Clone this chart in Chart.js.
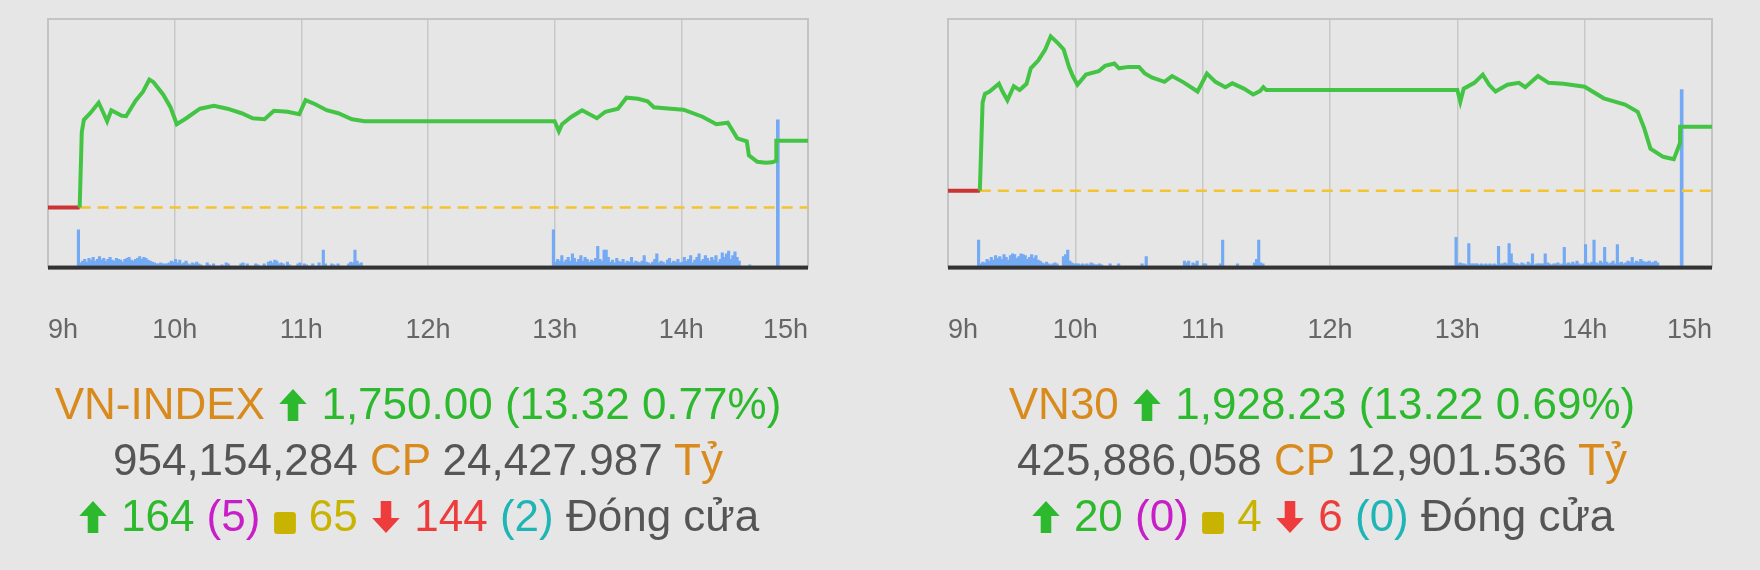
<!DOCTYPE html>
<html>
<head>
<meta charset="utf-8">
<script src="https://cdn.jsdelivr.net/npm/chart.js@4.4.1/dist/chart.umd.min.js"></script>
<style>
  body { margin:0; width:1760px; height:570px; background:#e6e6e6; font-family:"Liberation Sans", Arial, sans-serif; overflow:hidden; position:relative; }
  canvas { position:absolute; top:0; }
  .info { position:absolute; top:376px; width:860px; text-align:center; font-size:44px; line-height:56px; color:#555; white-space:nowrap; }
  .o { color:#d98a1c; } .g { color:#2db92d; } .m { color:#c81ec8; } .y { color:#c8b400; } .r { color:#ee3b3b; } .c { color:#1fb5b5; }
  svg { vertical-align:-4px; }
</style>
</head>
<body>
<canvas id="vnindex" width="860" height="395" style="left:0"></canvas>
<canvas id="vn30" width="860" height="395" style="left:900px"></canvas>

<div class="info" style="left:-12px">
  <div><span class="o">VN-INDEX</span> <svg width="32" height="36" viewBox="0 0 30 34"><path d="M15 2 L28 16 L20 16 L20 32 L10 32 L10 16 L2 16 Z" fill="#2db92d"/></svg> <span class="g">1,750.00 (13.32 0.77%)</span></div>
  <div>954,154,284 <span class="o">CP</span> 24,427.987 <span class="o">Tỷ</span></div>
  <div><svg width="32" height="36" viewBox="0 0 30 34"><path d="M15 2 L28 16 L20 16 L20 32 L10 32 L10 16 L2 16 Z" fill="#2db92d"/></svg> <span class="g">164</span> <span class="m">(5)</span> <svg width="24" height="24" viewBox="0 0 22 22"><rect x="1" y="1" width="20" height="20" rx="3" fill="#c8b400"/></svg> <span class="y">65</span> <svg width="32" height="36" viewBox="0 0 30 34"><path d="M15 32 L28 18 L20 18 L20 2 L10 2 L10 18 L2 18 Z" fill="#ee3b3b"/></svg> <span class="r">144</span> <span class="c">(2)</span> Đóng cửa</div>
</div>
<div class="info" style="left:892px">
  <div><span class="o">VN30</span> <svg width="32" height="36" viewBox="0 0 30 34"><path d="M15 2 L28 16 L20 16 L20 32 L10 32 L10 16 L2 16 Z" fill="#2db92d"/></svg> <span class="g">1,928.23 (13.22 0.69%)</span></div>
  <div>425,886,058 <span class="o">CP</span> 12,901.536 <span class="o">Tỷ</span></div>
  <div><svg width="32" height="36" viewBox="0 0 30 34"><path d="M15 2 L28 16 L20 16 L20 32 L10 32 L10 16 L2 16 Z" fill="#2db92d"/></svg> <span class="g">20</span> <span class="m">(0)</span> <svg width="24" height="24" viewBox="0 0 22 22"><rect x="1" y="1" width="20" height="20" rx="3" fill="#c8b400"/></svg> <span class="y">4</span> <svg width="32" height="36" viewBox="0 0 30 34"><path d="M15 32 L28 18 L20 18 L20 2 L10 2 L10 18 L2 18 Z" fill="#ee3b3b"/></svg> <span class="r">6</span> <span class="c">(0)</span> Đóng cửa</div>
</div>

<script>
// minutes after 9:00
const tickMinutes = [0, 60, 120, 180, 240, 300, 360];
const tickLabels = ['9h', '10h', '11h', '12h', '13h', '14h', '15h'];

// VN-INDEX
const vniRef = 1736.68;
const vniClose = 1750.00;
const vniTimes = [16,17,20,24,26,28,30,35,37,41.5,45,48,50,54.6,58,61,65.5,72,78.6,85,91.7,97,102.6,107,113.5,119,122,126.6,132,137.5,144,150,240,242,243.5,248,253,260,264,270,274,279.5,284,287,295,301,310,316.6,322,326.5,331,332,336,340,343,344.9];
const vniPrices = [1751.7,1754.2,1755.5,1757.6,1755.8,1753.9,1756.1,1755.0,1754.9,1758.0,1759.8,1762.2,1761.7,1759.2,1756.7,1753.3,1754.5,1756.4,1757.0,1756.4,1755.5,1754.5,1754.3,1756.0,1755.8,1755.3,1758.1,1757.3,1756.1,1755.5,1754.3,1753.9,1753.9,1751.9,1753.3,1754.8,1756.1,1754.5,1755.8,1756.4,1758.6,1758.4,1757.9,1756.7,1756.4,1756.2,1754.8,1753.3,1753.6,1750.5,1749.9,1747.1,1745.8,1745.6,1745.7,1746.0];
const vniVolAM = [40,4,6,8,5,9,7,10,6,8,11,7,9,6,8,10,7,6,9,8,7,5,8,9,10,7,6,8,9,11,8,10,9,7,6,5,4,3,3,4,3,
  3,3,4,6,5,8,4,7,3,4,6,3,2,4,3,
  5,3,2,0,0,4,2,0,3,0,0,0,2,0,4,3,0,0,0,0,
  0,3,4,0,3,0,0,0,3,2,0,0,3,0,5,6,4,7,6,3,
  4,3,0,5,2,0,0,0,3,4,0,3,2,0,0,3,0,0,4,0,
  18,3,0,0,3,2,0,3,0,0,0,0,3,5,4,18,6,3,4,0];
const vniVolPM = [40,5,8,6,12,5,7,10,6,14,9,5,8,12,6,10,8,5,7,6,9,
  22,8,6,18,18,10,5,7,4,9,6,5,8,4,6,5,10,4,6,5,
  4,6,12,5,4,3,5,8,14,4,6,5,3,7,9,4,6,5,8,4,
  5,10,6,8,12,4,7,10,14,6,8,12,9,6,10,7,12,5,8,15,
  10,14,17,8,12,16,10,6,0,0,0,0,2];
const vniVolATC = 160;

// VN30
const vn30Ref = 1915.01;
const vn30Close = 1928.23;
const vn30Times = [16.3,17.4,19.6,24,25.7,28,31,33.8,37,39,42.5,45.8,48.4,52,54.5,57,58.8,61,65,71,74,78.4,80.6,85,90,92.6,96,102,105.6,111,117.6,122,126,130.7,134,139.4,143.8,147,148.6,150,240,241.4,243,248,252,255,258,263.6,269,272,278,283,290,300,309,319,325,328,331,337,342,344.9];
const vn30Prices = [1933.2,1935.0,1935.5,1937.1,1935.5,1933.7,1936.6,1935.8,1937.1,1940.3,1941.9,1944.2,1946.9,1945.4,1944.2,1940.6,1938.7,1936.9,1939.0,1939.7,1940.8,1941.3,1940.3,1940.6,1940.6,1939.3,1938.4,1937.5,1938.7,1937.4,1935.5,1939.2,1937.5,1936.4,1937.2,1936.1,1934.9,1935.6,1936.4,1935.8,1935.8,1933.4,1936.1,1937.3,1939.0,1936.9,1935.5,1936.9,1937.3,1936.4,1938.7,1937.3,1937.1,1936.5,1934.1,1932.8,1931.3,1928.0,1923.7,1922.0,1921.5,1924.8];
const vn30VolAM = [29,3,5,4,8,6,10,7,12,9,11,8,13,10,7,12,14,13,9,11,14,13,12,8,10,13,9,12,7,6,4,3,5,3,2,3,
  4,3,0,0,11,13,18,6,4,3,3,3,2,3,2,3,2,4,3,2,
  2,3,2,0,0,0,3,0,0,0,3,0,0,0,0,0,0,0,0,0,
  0,3,0,11,0,0,0,0,0,0,0,0,0,0,0,0,0,0,0,0,
  0,6,4,6,0,4,3,6,0,0,3,3,0,0,0,0,0,0,3,29,
  0,0,0,0,0,0,3,0,0,0,0,0,0,0,4,8,29,4,3,0];
const vn30VolPM = [32,3,4,3,3,2,25,3,3,3,3,2,3,2,3,2,3,2,3,2,22,
  3,3,4,3,25,14,4,3,3,2,4,3,2,5,3,14,2,3,3,3,
  3,14,4,3,2,3,3,4,2,3,21,3,4,3,5,3,6,3,2,3,
  24,4,3,5,29,4,3,6,4,21,5,3,4,6,3,24,4,5,3,4,
  6,5,10,4,6,5,8,6,5,5,6,4,5,6,4,0,0,0];
const vn30VolATC = 193;

const framePlugin = {
  id: 'frame',
  beforeDatasetsDraw(chart) {
    const a = chart.chartArea, ctx = chart.ctx;
    ctx.save();
    ctx.strokeStyle = '#c4c4c4';
    ctx.lineWidth = 2;
    ctx.strokeRect(a.left, a.top, a.right - a.left, a.bottom - a.top);
    ctx.restore();
  },
  afterDatasetsDraw(chart) {
    const a = chart.chartArea, ctx = chart.ctx;
    ctx.save();
    ctx.fillStyle = '#333';
    ctx.fillRect(a.left, a.bottom - 1, a.right - a.left, 4);
    ctx.restore();
  }
};

function volPoints(arr, start) {
  return arr.map((v, i) => ({ x: start + i, y: v })).filter(p => p.y > 0);
}

function makeChart(id, ref, close, times, prices, volAM, volPM, volATC, pmin, pmax, padRight) {
  const line = [{ x: 15, y: ref }];
  times.forEach((t, i) => line.push({ x: t, y: prices[i] }));
  line.push({ x: 345, y: close }, { x: 360, y: close });
  new Chart(document.getElementById(id), {
    data: {
      datasets: [
        { type: 'line', data: line, borderColor: '#44c444', borderWidth: 4, pointRadius: 0, yAxisID: 'y', order: 1 },
        { type: 'line', data: [{ x: 0, y: ref }, { x: 15, y: ref }], borderColor: '#cc3333', borderWidth: 4, pointRadius: 0, yAxisID: 'y', order: 2 },
        { type: 'line', data: [{ x: 15, y: ref }, { x: 360, y: ref }], borderColor: '#f4c430', borderWidth: 2.5, borderDash: [11, 7], pointRadius: 0, yAxisID: 'y', order: 3 },
        { type: 'bar', data: volPoints(volAM, 15).concat(volPoints(volPM, 240)), backgroundColor: '#74aaf4', barThickness: 2.5, yAxisID: 'v', order: 4 },
        { type: 'bar', data: [{ x: 345, y: volATC }], backgroundColor: '#74aaf4', barThickness: 3, yAxisID: 'v', order: 4 }
      ]
    },
    options: {
      responsive: false,
      animation: false,
      plugins: { legend: { display: false }, tooltip: { enabled: false } },
      layout: { padding: { left: 10, right: padRight, top: 19, bottom: 0 } },
      scales: {
        x: {
          type: 'linear', min: 0, max: 360, offset: false,
          afterBuildTicks: s => { s.ticks = tickMinutes.map(v => ({ value: v })); },
          ticks: { callback: (v) => tickLabels[tickMinutes.indexOf(v)], color: '#666', font: { size: 27, family: 'Liberation Sans' }, padding: 48, align: 'inner', maxRotation: 0, autoSkip: false },
          grid: { color: '#c8c8c8', lineWidth: 1.5, drawTicks: false, offset: false },
          border: { display: false }
        },
        y: { display: false, min: pmin, max: pmax },
        v: { display: false, min: 0, max: 270 }
      }
    },
    plugins: [framePlugin]
  });
}

makeChart('vnindex', vniRef, vniClose, vniTimes, vniPrices, vniVolAM, vniVolPM, vniVolATC, 1724.9, 1774.3, 52);
makeChart('vn30', vn30Ref, vn30Close, vn30Times, vn30Prices, vn30VolAM, vn30VolPM, vn30VolATC, 1899.3, 1950.5, 48);
</script>
</body>
</html>
